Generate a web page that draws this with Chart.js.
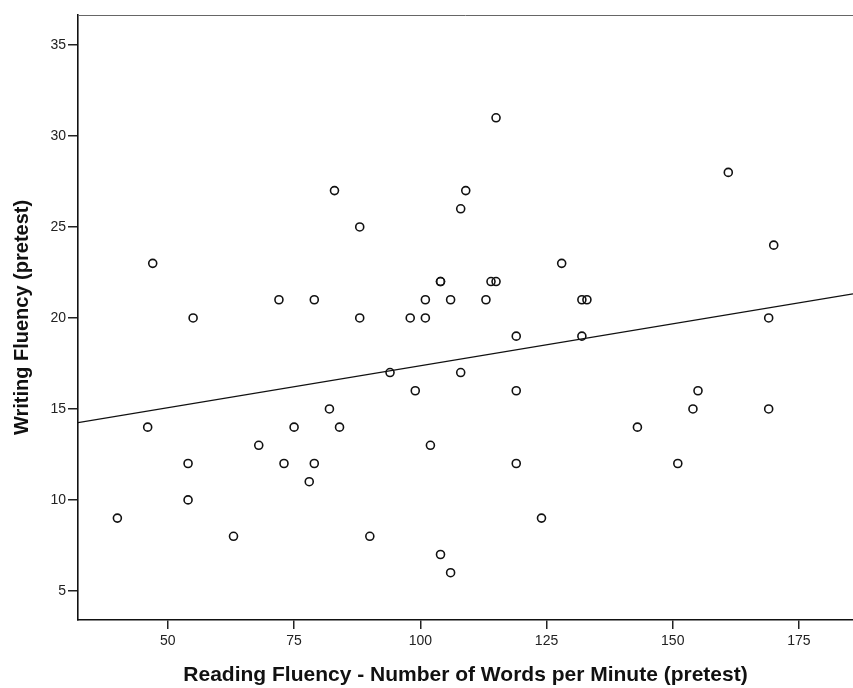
<!DOCTYPE html>
<html>
<head>
<meta charset="utf-8">
<title>Reading vs Writing Fluency</title>
<script src="https://cdn.jsdelivr.net/npm/chart.js@4/dist/chart.umd.min.js"></script>
<style>
    html, body { margin: 0; padding: 0; background: #fff; overflow: hidden; }
    #wrap { width: 853px; height: 688px; position: relative; overflow: hidden; }
</style>
</head>
<body>
<div id="wrap"><canvas id="fluencyChart"></canvas></div>
<script>
// Pretest scores per student: words per minute vs writing fluency
const readingWpm = [40, 46, 47, 54, 54, 55, 63, 68, 72, 73, 75, 78, 79, 79, 82, 83, 84, 88, 88, 90,
                    94, 98, 99, 101, 101, 102, 104, 104, 104, 106, 106, 108, 108, 109, 113, 114, 115, 115,
                    119, 119, 119, 124, 128, 132, 133, 132, 143, 151, 154, 155, 161, 169, 169, 170];
const writingScore = [9, 14, 23, 12, 10, 20, 8, 13, 21, 12, 14, 11, 21, 12, 15, 27, 14, 25, 20, 8,
                      17, 20, 16, 21, 20, 13, 22, 22, 7, 21, 6, 26, 17, 27, 21, 22, 22, 31,
                      19, 16, 12, 9, 23, 21, 21, 19, 14, 12, 15, 16, 28, 20, 15, 24];

// Fit line end points (at the axis limits)
const fitX = [32.2, 185.7];
const fitY = [14.25, 21.32];

const xTicks = [50, 75, 100, 125, 150, 175];
const yTicks = [5, 10, 15, 20, 25, 30, 35];

const points = readingWpm.map((x, i) => ({ x: x, y: writingScore[i] }));
const fitLine = fitX.map((x, i) => ({ x: x, y: fitY[i] }));

Chart.defaults.font.family = '"Liberation Sans", Arial, sans-serif';
Chart.defaults.color = '#222';
Chart.defaults.animation = false;

// top frame line of the plot box
const frameTop = {
    id: 'frameTop',
    afterDraw(chart) {
        const a = chart.chartArea;
        const ctx = chart.ctx;
        ctx.save();
        ctx.strokeStyle = '#666';
        ctx.lineWidth = 1;
        ctx.beginPath();
        ctx.moveTo(a.left, a.top + 0.5);
        ctx.lineTo(a.right, a.top + 0.5);
        ctx.stroke();
        ctx.restore();
    }
};

new Chart(document.getElementById('fluencyChart'), {
    type: 'scatter',
    data: {
        datasets: [
            {
                label: 'Students',
                data: points,
                pointStyle: 'circle',
                pointRadius: 4,
                pointBorderWidth: 1.6,
                borderColor: '#111',
                backgroundColor: 'rgba(0,0,0,0)'
            },
            {
                label: 'Linear fit',
                data: fitLine,
                showLine: true,
                pointRadius: 0,
                borderColor: '#111',
                borderWidth: 1.3,
                fill: false
            }
        ]
    },
    options: {
        responsive: true,
        maintainAspectRatio: false,
        // no extra room for point overflow, plot runs to the right edge
        layout: { autoPadding: false, padding: { top: 15, right: 0, left: 0, bottom: 0 } },
        plugins: {
            legend: { display: false },
            tooltip: { enabled: false }
        },
        scales: {
            x: {
                type: 'linear',
                min: fitX[0],
                max: fitX[1],
                afterBuildTicks: scale => { scale.ticks = xTicks.map(v => ({ value: v })); },
                afterFit: scale => { scale.height = 68; },
                grid: {
                    drawOnChartArea: false,
                    tickLength: 9,
                    color: '#222',
                    lineWidth: 1.5
                },
                border: { display: true, color: '#111', width: 1.6 },
                ticks: {
                    padding: 4,
                    font: { size: 14 },
                    color: '#222'
                },
                title: {
                    display: true,
                    text: 'Reading Fluency - Number of Words per Minute (pretest)',
                    font: { size: 21, weight: 'bold' },
                    color: '#111',
                    padding: { top: 0, bottom: 0 }
                }
            },
            y: {
                type: 'linear',
                min: 3.4,
                max: 36.65,
                afterBuildTicks: scale => { scale.ticks = yTicks.map(v => ({ value: v })); },
                afterFit: scale => { scale.width = 78; },
                grid: {
                    drawOnChartArea: false,
                    tickLength: 10,
                    color: '#222',
                    lineWidth: 1.5
                },
                border: { display: true, color: '#111', width: 1.6 },
                ticks: {
                    padding: 2,
                    font: { size: 14 },
                    color: '#222'
                },
                title: {
                    display: true,
                    text: 'Writing Fluency (pretest)',
                    font: { size: 20, weight: 'bold' },
                    color: '#111',
                    padding: { top: 10, bottom: 0 }
                }
            }
        }
    },
    plugins: [frameTop]
});
</script>
</body>
</html>
